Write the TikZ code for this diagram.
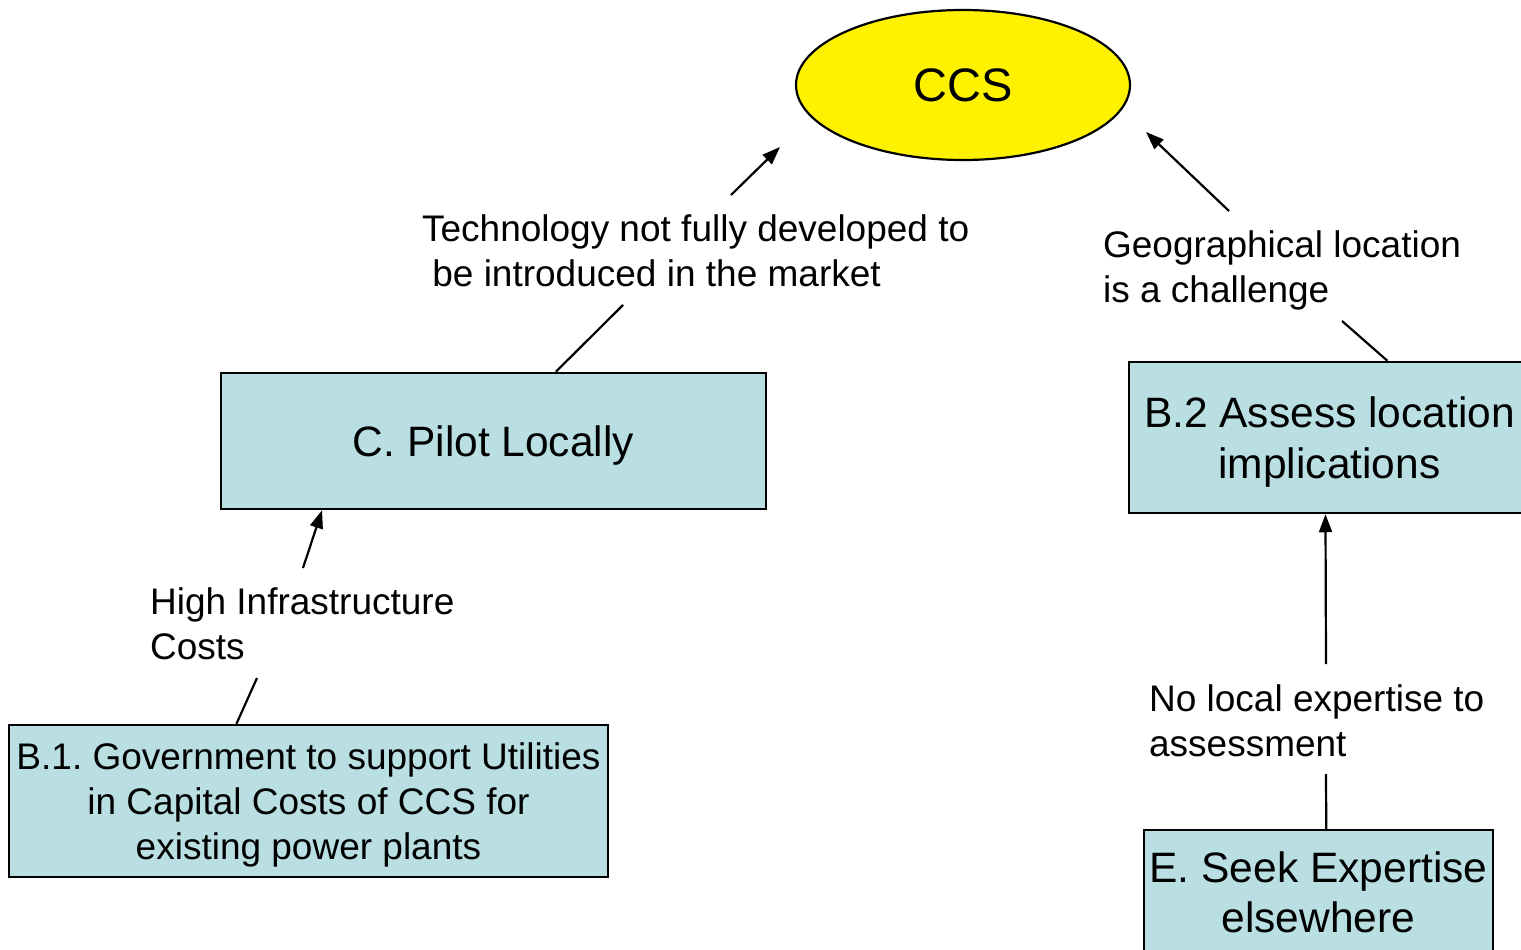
\documentclass[tikz,border=0pt]{standalone}
\usepackage{fontspec}
\setmainfont{Liberation Sans}
\usetikzlibrary{shapes.geometric,arrows.meta}
\definecolor{boxblue}{RGB}{185,223,227}
\frenchspacing

\begin{document}
\begin{tikzpicture}[x=1pt, y=-1pt, line width=2.2pt,
    main/.style = {draw, line width=2.5pt, fill=boxblue, inner sep=0pt, text depth=0pt, align=center, font=\fontsize{42.5}{51}\selectfont},
    goal/.style = {draw, ellipse, fill=yellow, inner sep=0pt, minimum width=334pt, minimum height=150pt, font=\fontsize{47}{56}\selectfont},
    lbl/.style = {inner sep=0pt, align=left, anchor=base west, font=\fontsize{37}{44.5}\selectfont},
    arr/.style = {-{Triangle[length=18pt,width=13pt]}}]
        \useasboundingbox (0,0) rectangle (1521,950);
        \clip (0,0) rectangle (1521,950);

        \node[goal] (ccs) at (963,85) {CCS};
        \node[main, minimum width=545pt, minimum height=136pt] (pilot) at (493.5,441) {C. Pilot Locally};
        \node[main, minimum width=401pt, minimum height=151pt] (b2) at (1329.5,437.5) {B.2 Assess location\\implications};
        \node[main, minimum width=599pt, minimum height=152pt, font=\fontsize{37}{45}\selectfont] (b1) at (308.5,801) {B.1. Government to support Utilities\\in Capital Costs of CCS for\\existing power plants};
        \node[main, minimum width=349pt, minimum height=124pt, font=\fontsize{42.5}{50}\selectfont] (e) at (1318.5,892) {E. Seek Expertise\\elsewhere};

        \node[lbl] (tech) at (421,286) {Technology not fully developed to\\\hspace*{0.278em}be introduced in the market};
        \node[lbl] (geo) at (1102,302) {Geographical location\\is a challenge};
        \node[lbl] (high) at (149,659) {High Infrastructure\\Costs};
        \node[lbl] (nolocal) at (1148,756) {No local expertise to\\assessment};

        % ends of the connectors round the labels
        \coordinate (t1) at (623,305);
        \coordinate (t2) at (731,195);
        \coordinate (t3) at (780,147);
        \coordinate (g1) at (1342,321);
        \coordinate (g2) at (1229,211);
        \coordinate (g3) at (1146,132);
        \coordinate (h1) at (257,678);
        \coordinate (h2) at (303,568);
        \coordinate (n1) at (1326,774);
        \coordinate (n2) at (1326,664);

        \draw (pilot.48) -- (t1);
        \draw[arr] (t2) -- (t3);

        \draw (b2.53) -- (g1);
        \draw[arr] (g2) -- (g3);

        \draw (b1.133) -- (h1);
        \draw[arr] (h2) -- (pilot.202);

        \draw (e.83) -- (n1);
        \draw[arr] (n2) -- (b2.267);
\end{tikzpicture}
\end{document}
